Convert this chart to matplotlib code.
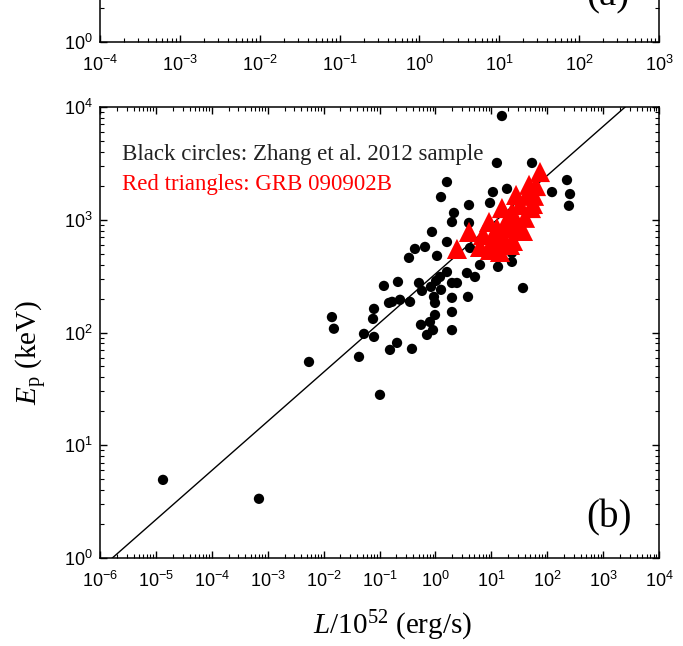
import numpy as np
import matplotlib
matplotlib.use("Agg")
import matplotlib.pyplot as plt
from matplotlib.ticker import LogLocator, FuncFormatter, NullFormatter

plt.rcParams['font.family'] = ['Liberation Sans', 'DejaVu Sans']
plt.rcParams['mathtext.fontset'] = 'custom'
plt.rcParams['mathtext.it'] = 'Liberation Serif:italic'
plt.rcParams['mathtext.rm'] = 'Liberation Serif'
plt.rcParams['axes.unicode_minus'] = False

# Zhang et al. 2012 sample: L/1e52 erg/s and Ep (keV)
zhang_L = [1.34e-5, 6.98e-4, 5.48e-3, 0.0141, 0.0153, 0.0430, 0.0528, 0.0798, 0.0766, 0.0798,
           0.102, 0.120, 0.148, 0.154, 0.431, 0.337, 0.214, 0.509, 0.233, 0.352,
           0.552, 0.206, 0.381, 0.168, 15.5, 12.6, 53.5, 1.61, 1.26, 10.7,
           19.1, 9.48, 3.99, 2.15, 1.98, 3.99, 0.869, 1.61, 0.652, 1.07,
           4.16, 36.9, 122, 226, 256, 245, 23.4, 13.2, 13.2, 23.4,
           6.28, 5.11, 3.67, 36.9, 1.21, 1.61, 1.03, 0.575, 0.834, 1.26,
           1.98, 2.43, 1.98, 3.83, 0.944, 0.984, 1.98, 0.984, 0.800, 0.906,
           1.98, 0.708]
zhang_Ep = [4.93, 3.35, 54.8, 137, 108, 60.8, 97.2, 162, 132, 91.4,
            28.0, 259, 183, 70.1, 551, 459, 281, 275, 195, 187,
            117, 80.9, 71.6, 187, 8320, 3190, 3190, 2160, 1590, 1760,
            1880, 1410, 1350, 1150, 955, 937, 780, 635, 574, 478,
            562, 937, 1760, 2250, 1690, 1330, 508, 459, 382, 423,
            397, 311, 337, 248, 311, 344, 287, 234, 254, 239,
            275, 275, 203, 207, 207, 183, 152, 143, 124, 105,
            105, 95.2]

# GRB 090902B time-resolved
grb_L = [2.43, 3.99, 6.28, 7.11, 9.10, 9.48, 10.7, 12.6, 14.3, 15.5,
         16.2, 18.3, 21.6, 24.4, 23.4, 27.7, 30.1, 32.6, 36.9, 40.1,
         43.6, 47.3, 51.3, 55.7, 58.1, 63.1, 74.3, 19.9, 26.5, 13.2]
grb_Ep = [551, 780, 574, 733, 955, 540, 662, 846, 518, 1270,
          690, 955, 598, 649, 1170, 1660, 812, 1350, 796, 1040,
          1660, 2040, 1270, 1380, 1630, 1990, 2650, 846, 995, 598]

# best-fit line: log Ep = a + b log L
fit_a = 2.52
fit_b = 0.436

W, H = 683, 646
fig = plt.figure(figsize=(W / 100, H / 100), dpi=100)


def logfmt(v, pos):
    e = int(round(np.log10(v)))
    return r'$\mathregular{10^{%d}}$' % e


def style_axis(ax):
    for s in ax.spines.values():
        s.set_linewidth(1.1)
    for axis in (ax.xaxis, ax.yaxis):
        axis.set_major_locator(LogLocator(base=10, numticks=30))
        axis.set_minor_locator(LogLocator(base=10, subs=np.arange(2, 10), numticks=300))
        axis.set_major_formatter(FuncFormatter(logfmt))
        axis.set_minor_formatter(NullFormatter())
    ax.tick_params(which='both', direction='in', top=True, right=True, labelsize=13)
    ax.tick_params(which='major', length=5, width=1.0)
    ax.tick_params(which='minor', length=2.8, width=0.8)
    ax.tick_params(axis='x', pad=9)
    ax.tick_params(axis='y', pad=5)


# panel (a), only its bottom strip is inside the picture
ax_a = fig.add_axes([100 / W, 1 - 42 / H, 559 / W, 68 / H])
ax_a.set_xscale('log')
ax_a.set_yscale('log')
ax_a.set_xlim(1e-4, 1e3)
ax_a.set_ylim(1, 10 ** 0.6)
style_axis(ax_a)
ax_a.text(608 / W, 1 - 5 / H, '(a)', transform=fig.transFigure, ha='center',
          va='baseline', fontsize=28, family='Liberation Serif')

# panel (b)
ax = fig.add_axes([100 / W, 1 - 558 / H, 559 / W, 451 / H])
ax.set_xscale('log')
ax.set_yscale('log')
ax.set_xlim(1e-6, 1e4)
ax.set_ylim(1, 1e4)
style_axis(ax)

lx = np.logspace(-6, 4, 50)
ax.plot(lx, 10 ** (fit_a + fit_b * np.log10(lx)), color='black', lw=1.0, zorder=2)
ax.scatter(zhang_L, zhang_Ep, s=55, color='black', edgecolors='none', zorder=3)
ax.scatter(grb_L, grb_Ep, s=210, marker='^', color='#ff0000', edgecolors='none', zorder=4)

ax.text(0.04, 0.895, 'Black circles: Zhang et al. 2012 sample', transform=ax.transAxes,
        fontsize=16.5, family='Liberation Serif', color='#222222', va='center')
ax.text(0.04, 0.828, 'Red triangles: GRB 090902B', transform=ax.transAxes,
        fontsize=16.5, family='Liberation Serif', color='#ff0000', va='center')
ax.text(0.91, 0.09, '(b)', transform=ax.transAxes, fontsize=28,
        family='Liberation Serif', ha='center', va='center')

ax.set_xlabel(r'$\mathit{L}$/10$^{52}$ (erg/s)', family='Liberation Serif', fontsize=21)
ax.set_ylabel(r'$\mathit{E}_{\mathregular{p}}$ (keV)', family='Liberation Serif', fontsize=21)
ax.xaxis.set_label_coords(0.524, -0.112)
ax.yaxis.set_label_coords(-0.092, 0.455)

fig.savefig('out.png', dpi=100)
